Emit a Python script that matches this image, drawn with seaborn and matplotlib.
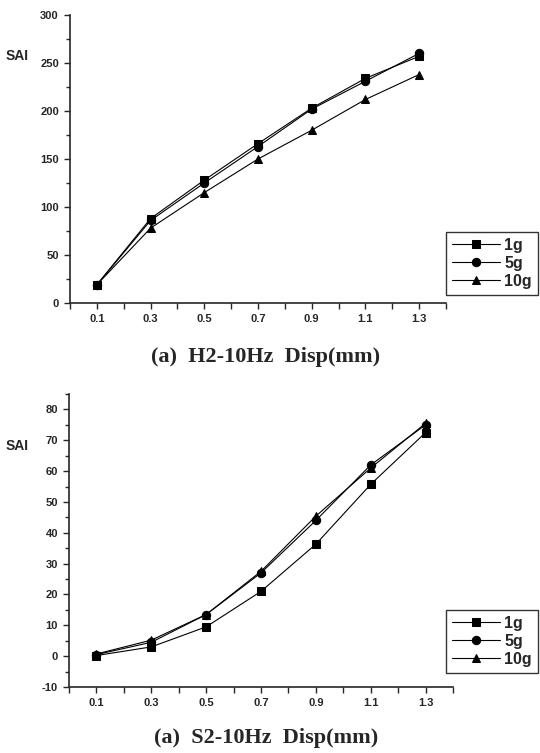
import numpy as np
import pandas as pd
import matplotlib
matplotlib.use('Agg')
import matplotlib.pyplot as plt
import seaborn as sns
from matplotlib.ticker import MultipleLocator, FixedLocator

sns.set_style('ticks')
plt.rcParams['axes.unicode_minus'] = False

disp = [0.1, 0.3, 0.5, 0.7, 0.9, 1.1, 1.3]
groups = ['1g', '5g', '10g']

# H2-10Hz
h2_1g = [19, 88, 128, 166, 203, 234, 257]
h2_5g = [19, 86, 125, 163, 202, 231, 260]
h2_10g = [19, 78, 115, 150, 180, 212, 238]

# S2-10Hz
s2_1g = [0.2, 3.0, 9.5, 21, 36.3, 55.7, 72.5]
s2_5g = [0.5, 4.5, 13.5, 27, 44, 62, 75]
s2_10g = [0.7, 5.2, 13.5, 27.5, 45.4, 61, 75.5]


def long_df(a, b, c):
    rows = []
    for g, vals in zip(groups, [a, b, c]):
        for x, v in zip(disp, vals):
            rows.append({'Disp': x, 'SAI': v, 'load': g})
    return pd.DataFrame(rows)


fig = plt.figure(figsize=(5.4, 7.53), dpi=100)
ax1 = fig.add_axes([70/540, 1-303/753, 376/540, 288/753])
ax2 = fig.add_axes([69/540, 1-687/753, 384/540, 293/753])

markers = {'1g': 's', '5g': 'o', '10g': '^'}
pal = {'1g': 'black', '5g': 'black', '10g': 'black'}


def draw(ax, df, ylim, major, minor, title, title_y, sai_y, leg_top):
    sns.lineplot(data=df, x='Disp', y='SAI', hue='load', style='load',
                 markers=markers, dashes=False, palette=pal, ax=ax,
                 linewidth=0.8, markersize=6, markeredgecolor='black')
    ax.set_xlim(0.0, 1.4)
    ax.set_ylim(*ylim)
    ax.xaxis.set_major_locator(FixedLocator(disp))
    ax.xaxis.set_minor_locator(FixedLocator([0.0, 0.2, 0.4, 0.6, 0.8, 1.0, 1.2, 1.4]))
    ax.yaxis.set_major_locator(MultipleLocator(major))
    ax.yaxis.set_minor_locator(MultipleLocator(minor))
    ax.set_xticklabels([f'{v:.1f}' for v in disp])
    for lab in ax.get_xticklabels() + ax.get_yticklabels():
        lab.set_fontfamily('Liberation Sans')
        lab.set_fontweight('bold')
        lab.set_fontsize(8)
    ax.tick_params(which='major', length=4, width=1, direction='out', pad=4)
    ax.tick_params(axis='x', which='minor', length=4, width=1, direction='out')
    ax.tick_params(axis='y', which='minor', length=3, width=1, direction='out')
    sns.despine(ax=ax)
    for s in ['left', 'bottom']:
        ax.spines[s].set_linewidth(1.2)
    ax.set_xlabel('')
    ax.set_ylabel('')
    fig.text(6/540, 1-sai_y/753, 'SAI', ha='left', va='center',
             fontfamily='Liberation Sans', fontweight='bold', fontsize=10)
    fig.text(266/540, 1-title_y/753, title, ha='center', va='center',
             fontfamily='Liberation Serif', fontweight='bold', fontsize=16)
    leg = ax.legend(loc='upper left', bbox_to_anchor=(446/540, leg_top),
                    bbox_transform=fig.transFigure, frameon=True, fancybox=False,
                    prop={'family': 'Liberation Sans', 'weight': 'bold', 'size': 11.5},
                    handlelength=3.0, handletextpad=0.3, borderpad=0.35,
                    labelspacing=0.2, borderaxespad=0)
    leg.get_frame().set_edgecolor('black')
    leg.get_frame().set_linewidth(1.0)


draw(ax1, long_df(h2_1g, h2_5g, h2_10g), (0, 300), 50, 25,
     '(a)  H2-10Hz  Disp(mm)', 357, 56, 1-232/753)
draw(ax2, long_df(s2_1g, s2_5g, s2_10g), (-10, 85), 10, 5,
     '(a)  S2-10Hz  Disp(mm)', 738, 446, 1-610/753)

fig.savefig('out.png', dpi=100)
